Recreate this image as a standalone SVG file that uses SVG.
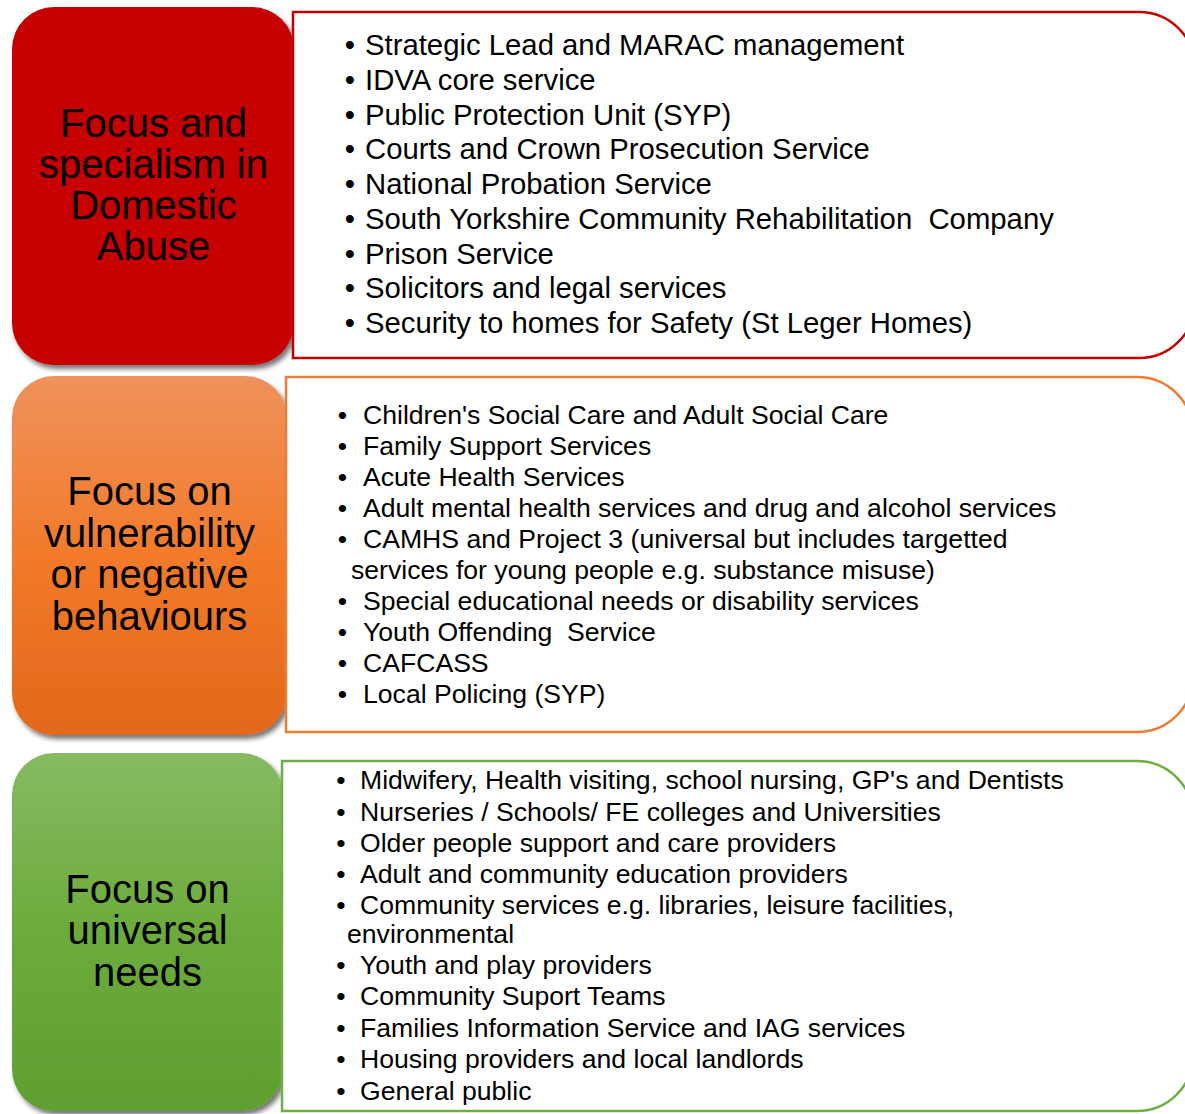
<svg xmlns="http://www.w3.org/2000/svg" width="1185" height="1114" viewBox="0 0 1185 1114">
  <style>
    .title { font-family: "Liberation Sans", Arial, sans-serif; font-size: 40px; fill: #000; text-anchor: middle; }
    .item-lg { font-family: "Liberation Sans", Arial, sans-serif; font-size: 29.3px; fill: #000; }
    .item { font-family: "Liberation Sans", Arial, sans-serif; font-size: 26.6px; fill: #000; }
    .dot { text-anchor: middle; }
    .panel { fill: #fff; stroke-width: 2.5; }
  </style>
  <defs>
    <linearGradient id="gradOrange" x1="0" y1="0" x2="0" y2="1">
      <stop offset="0" stop-color="#ef925c"/>
      <stop offset="0.5" stop-color="#f27a2a"/>
      <stop offset="1" stop-color="#e2681a"/>
    </linearGradient>
    <linearGradient id="gradGreen" x1="0" y1="0" x2="0" y2="1">
      <stop offset="0" stop-color="#86bb62"/>
      <stop offset="0.5" stop-color="#6cab3c"/>
      <stop offset="1" stop-color="#5f9e31"/>
    </linearGradient>
    <filter id="shadow" x="-10%" y="-10%" width="125%" height="125%">
      <feDropShadow dx="3" dy="4" stdDeviation="2.5" flood-color="#000" flood-opacity="0.55"/>
    </filter>
  </defs>

  <!-- Tier 1: domestic abuse specialism -->
  <g id="tier-specialist">
    <rect x="12" y="7" width="282" height="358" rx="42" ry="42" fill="#c60000" filter="url(#shadow)"/>
    <g class="title">
      <text x="153.5" y="136.5">Focus and</text>
      <text x="153.5" y="177.5">specialism in</text>
      <text x="153.5" y="218.5">Domestic</text>
      <text x="153.5" y="259.5">Abuse</text>
    </g>
  </g>
  <g id="list-specialist">
    <path class="panel" stroke="#c00000" d="M293 12 H1139 A56 56 0 0 1 1195 68 V302 A56 56 0 0 1 1139 358 H293 Z"/>
    <g class="item-lg">
      <text class="dot" x="350" y="55">•</text><text x="365" y="55">Strategic Lead and MARAC management</text>
      <text class="dot" x="350" y="89.75">•</text><text x="365" y="89.75">IDVA core service</text>
      <text class="dot" x="350" y="124.5">•</text><text x="365" y="124.5">Public Protection Unit (SYP)</text>
      <text class="dot" x="350" y="159.25">•</text><text x="365" y="159.25">Courts and Crown Prosecution Service</text>
      <text class="dot" x="350" y="194">•</text><text x="365" y="194">National Probation Service</text>
      <text class="dot" x="350" y="228.75">•</text><text x="365" y="228.75" xml:space="preserve">South Yorkshire Community Rehabilitation  Company</text>
      <text class="dot" x="350" y="263.5">•</text><text x="365" y="263.5">Prison Service</text>
      <text class="dot" x="350" y="298.25">•</text><text x="365" y="298.25">Solicitors and legal services</text>
      <text class="dot" x="350" y="333">•</text><text x="365" y="333">Security to homes for Safety (St Leger Homes)</text>
    </g>
  </g>

  <!-- Tier 2: vulnerability / negative behaviours -->
  <g id="tier-vulnerability">
    <rect x="12" y="376" width="275" height="359" rx="42" ry="42" fill="url(#gradOrange)" filter="url(#shadow)"/>
    <g class="title">
      <text x="149.5" y="505">Focus on</text>
      <text x="149.5" y="546.7">vulnerability</text>
      <text x="149.5" y="588.3">or negative</text>
      <text x="149.5" y="630">behaviours</text>
    </g>
  </g>
  <g id="list-vulnerability">
    <path class="panel" stroke="#ed7d31" d="M286 377 H1137 A56 56 0 0 1 1193 433 V676 A56 56 0 0 1 1137 732 H286 Z"/>
    <g class="item">
      <text class="dot" x="342.5" y="423.5">•</text><text x="363" y="423.5">Children's Social Care and Adult Social Care</text>
      <text class="dot" x="342.5" y="454.6">•</text><text x="363" y="454.6">Family Support Services</text>
      <text class="dot" x="342.5" y="485.7">•</text><text x="363" y="485.7">Acute Health Services</text>
      <text class="dot" x="342.5" y="516.8">•</text><text x="363" y="516.8">Adult mental health services and drug and alcohol services</text>
      <text class="dot" x="342.5" y="547.9">•</text><text x="363" y="547.9">CAMHS and Project 3 (universal but includes targetted</text>
      <text x="351" y="578.6">services for young people e.g. substance misuse)</text>
      <text class="dot" x="342.5" y="609.7">•</text><text x="363" y="609.7">Special educational needs or disability services</text>
      <text class="dot" x="342.5" y="640.8">•</text><text x="363" y="640.8" xml:space="preserve">Youth Offending  Service</text>
      <text class="dot" x="342.5" y="672">•</text><text x="363" y="672">CAFCASS</text>
      <text class="dot" x="342.5" y="703.3">•</text><text x="363" y="703.3">Local Policing (SYP)</text>
    </g>
  </g>

  <!-- Tier 3: universal needs -->
  <g id="tier-universal">
    <rect x="12" y="753" width="271" height="358" rx="42" ry="42" fill="url(#gradGreen)" filter="url(#shadow)"/>
    <g class="title">
      <text x="147.5" y="903.3">Focus on</text>
      <text x="147.5" y="944.3">universal</text>
      <text x="147.5" y="985.7">needs</text>
    </g>
  </g>
  <g id="list-universal">
    <path class="panel" stroke="#70ad47" d="M282 761 H1137 A56 56 0 0 1 1193 817 V1055 A56 56 0 0 1 1137 1111 H282 Z"/>
    <g class="item">
      <text class="dot" x="341" y="788.5">•</text><text x="360" y="788.5">Midwifery, Health visiting, school nursing, GP's and Dentists</text>
      <text class="dot" x="341" y="820.5">•</text><text x="360" y="820.5">Nurseries / Schools/ FE colleges and Universities</text>
      <text class="dot" x="341" y="851.8">•</text><text x="360" y="851.8">Older people support and care providers</text>
      <text class="dot" x="341" y="883">•</text><text x="360" y="883">Adult and community education providers</text>
      <text class="dot" x="341" y="914.3">•</text><text x="360" y="914.3">Community services e.g. libraries, leisure facilities,</text>
      <text x="347" y="942.8">environmental</text>
      <text class="dot" x="341" y="973.8">•</text><text x="360" y="973.8">Youth and play providers</text>
      <text class="dot" x="341" y="1005.2">•</text><text x="360" y="1005.2">Community Suport Teams</text>
      <text class="dot" x="341" y="1036.7">•</text><text x="360" y="1036.7">Families Information Service and IAG services</text>
      <text class="dot" x="341" y="1068.3">•</text><text x="360" y="1068.3">Housing providers and local landlords</text>
      <text class="dot" x="341" y="1100">•</text><text x="360" y="1100">General public</text>
    </g>
  </g>

  <!-- no connectors between the tiers -->
  <g id="connectors"/>
</svg>
